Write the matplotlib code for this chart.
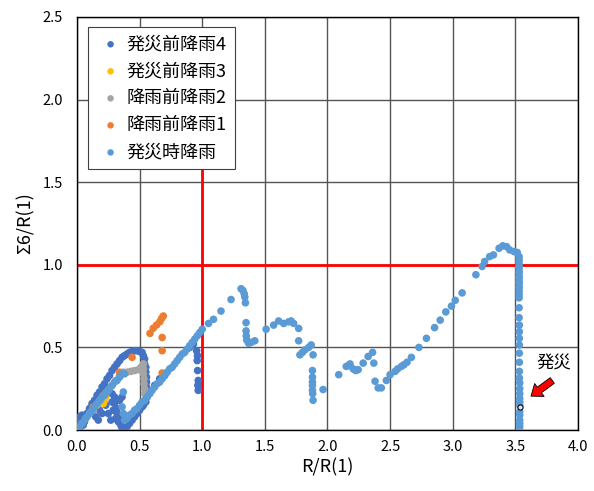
import numpy as np
import matplotlib
matplotlib.use('Agg')
import matplotlib.pyplot as plt
from matplotlib.patches import FancyArrowPatch

plt.rcParams['font.family'] = ['Noto Sans CJK JP', 'DejaVu Sans']

# series labels and colours (Excel palette)
labels = ['発災前降雨4', '発災前降雨3', '降雨前降雨2', '降雨前降雨1', '発災時降雨']
colors = ['#4472C4', '#FFC000', '#A5A5A5', '#ED7D31', '#5B9BD5']

# points as (R/R(1), Σ6/R(1))
# 発災前降雨4
pts4 = [(0.0, 0.0), (0.01, 0.03), (0.0, 0.06), (0.02, 0.08), (0.03, 0.05), (0.05, 0.03),
        (0.04, 0.09), (0.06, 0.05), (0.02, 0.01), (0.08, 0.10), (0.10, 0.13), (0.12, 0.16),
        (0.14, 0.18), (0.16, 0.21), (0.18, 0.23),
        (0.20, 0.26), (0.22, 0.28), (0.24, 0.31), (0.26, 0.33), (0.28, 0.36), (0.30, 0.38),
        (0.32, 0.40), (0.34, 0.42), (0.36, 0.44), (0.38, 0.45), (0.40, 0.46), (0.42, 0.47),
        (0.44, 0.475), (0.46, 0.48), (0.48, 0.48),
        (0.50, 0.475), (0.52, 0.47), (0.53, 0.45), (0.54, 0.43), (0.54, 0.40), (0.55, 0.38),
        (0.55, 0.35), (0.555, 0.32), (0.555, 0.29), (0.555, 0.26), (0.555, 0.23), (0.56, 0.20),
        (0.55, 0.17), (0.53, 0.15),
        (0.28, 0.22), (0.30, 0.20), (0.30, 0.16), (0.32, 0.13), (0.32, 0.10), (0.34, 0.08),
        (0.33, 0.05), (0.35, 0.03), (0.36, 0.01), (0.38, 0.0), (0.40, 0.02), (0.29, 0.12),
        (0.31, 0.07), (0.34, 0.18), (0.36, 0.20),
        (0.28, 0.17), (0.27, 0.06), (0.25, 0.10), (0.23, 0.15), (0.15, 0.08), (0.18, 0.12),
        (0.20, 0.10), (0.17, 0.06), (0.42, 0.04), (0.44, 0.06), (0.46, 0.08), (0.48, 0.10),
        (0.50, 0.12), (0.52, 0.14),
        (0.58, 0.22), (0.62, 0.27), (0.66, 0.31), (0.70, 0.33), (0.90, 0.50), (0.93, 0.52),
        (0.955, 0.48), (0.96, 0.42), (0.963, 0.36), (0.968, 0.30), (0.968, 0.24),
        (0.965, 0.27), (0.962, 0.45)]

# 発災前降雨3
pts3 = [(0.20, 0.17), (0.22, 0.18), (0.21, 0.16), (0.23, 0.20)]

# 降雨前降雨2
pts2 = [(0.04, 0.04), (0.07, 0.07), (0.10, 0.10), (0.13, 0.12), (0.16, 0.15), (0.19, 0.18),
        (0.22, 0.21), (0.25, 0.24), (0.28, 0.27), (0.31, 0.30), (0.34, 0.33), (0.37, 0.35),
        (0.40, 0.35), (0.43, 0.355), (0.46, 0.36), (0.49, 0.365), (0.51, 0.38), (0.53, 0.40),
        (0.53, 0.37), (0.53, 0.34), (0.535, 0.31), (0.535, 0.28), (0.54, 0.25), (0.54, 0.22)]

# 降雨前降雨1
pts1 = [(0.13, 0.14), (0.21, 0.21), (0.34, 0.35), (0.44, 0.44), (0.583, 0.585),
        (0.609, 0.616), (0.636, 0.636), (0.662, 0.656), (0.676, 0.676), (0.689, 0.69),
        (0.68, 0.56), (0.68, 0.48), (0.68, 0.345)]

# 発災時降雨
pts0 = [(0.0, 0.0), (0.02, 0.02), (0.04, 0.04), (0.06, 0.06), (0.08, 0.08), (0.10, 0.10),
        (0.12, 0.12), (0.14, 0.14), (0.16, 0.16), (0.18, 0.18), (0.20, 0.20), (0.22, 0.21),
        (0.24, 0.23), (0.26, 0.25), (0.28, 0.27), (0.30, 0.29), (0.32, 0.30), (0.34, 0.32),
        (0.36, 0.34), (0.38, 0.34), (0.37, 0.23), (0.36, 0.14), (0.37, 0.10), (0.38, 0.06),
        (0.40, 0.07), (0.42, 0.09), (0.44, 0.10), (0.46, 0.12), (0.48, 0.13), (0.50, 0.15),
        (0.52, 0.17), (0.54, 0.18), (0.56, 0.20), (0.58, 0.22), (0.60, 0.24), (0.62, 0.26),
        (0.64, 0.28), (0.66, 0.29), (0.68, 0.31), (0.70, 0.33), (0.72, 0.35), (0.74, 0.37),
        (0.76, 0.38), (0.78, 0.40), (0.80, 0.42), (0.82, 0.44), (0.84, 0.46), (0.86, 0.47),
        (0.88, 0.49), (0.90, 0.51), (0.92, 0.53), (0.94, 0.55), (0.96, 0.57), (0.98, 0.59),
        (1.00, 0.61), (1.05, 0.645), (1.09, 0.67), (1.15, 0.72), (1.23, 0.79), (1.31, 0.855),
        (1.325, 0.845), (1.335, 0.825), (1.34, 0.805), (1.345, 0.77), (1.35, 0.65),
        (1.35, 0.60), (1.352, 0.57), (1.355, 0.545), (1.37, 0.525), (1.39, 0.53),
        (1.42, 0.54), (1.51, 0.61), (1.57, 0.635), (1.61, 0.66), (1.65, 0.645), (1.69, 0.655),
        (1.71, 0.66), (1.73, 0.645), (1.77, 0.615), (1.77, 0.54), (1.78, 0.455), (1.80, 0.47),
        (1.82, 0.485), (1.85, 0.50), (1.87, 0.515), (1.885, 0.455), (1.88, 0.36), (1.88, 0.32),
        (1.88, 0.29), (1.88, 0.27), (1.88, 0.24), (1.882, 0.22), (1.885, 0.18), (1.965, 0.245),
        (2.09, 0.335), (2.15, 0.385), (2.17, 0.39), (2.18, 0.40), (2.205, 0.37), (2.225, 0.36),
        (2.245, 0.365), (2.285, 0.405), (2.325, 0.445), (2.36, 0.47), (2.37, 0.405),
        (2.38, 0.295), (2.405, 0.255), (2.43, 0.255), (2.47, 0.30), (2.50, 0.335),
        (2.54, 0.355), (2.56, 0.37), (2.59, 0.385), (2.61, 0.395), (2.635, 0.41), (2.67, 0.44),
        (2.73, 0.50), (2.79, 0.555), (2.855, 0.62), (2.90, 0.665), (2.945, 0.715), (2.99, 0.75),
        (3.02, 0.785), (3.075, 0.83), (3.185, 0.94), (3.235, 0.99), (3.255, 1.02),
        (3.295, 1.05), (3.325, 1.06), (3.37, 1.10), (3.40, 1.115), (3.43, 1.11),
        (3.455, 1.09), (3.49, 1.08), (3.515, 1.075), (3.53, 1.05), (3.53, 1.03), (3.53, 1.01),
        (3.53, 0.99), (3.53, 0.98), (3.53, 0.96), (3.53, 0.95), (3.53, 0.93), (3.53, 0.92),
        (3.53, 0.90), (3.53, 0.89), (3.53, 0.87), (3.53, 0.86), (3.53, 0.84), (3.53, 0.82),
        (3.53, 0.80), (3.53, 0.74), (3.53, 0.68), (3.532, 0.635), (3.532, 0.595),
        (3.532, 0.555), (3.532, 0.515), (3.532, 0.465), (3.532, 0.41), (3.532, 0.355),
        (3.532, 0.315), (3.535, 0.285), (3.535, 0.25), (3.535, 0.22), (3.535, 0.19),
        (3.535, 0.17), (3.535, 0.15), (3.535, 0.11), (3.535, 0.09), (3.535, 0.06),
        (3.535, 0.04), (3.535, 0.02), (3.535, 0.0)]

series = [pts4, pts3, pts2, pts1, pts0]

# 発災 point
event_x, event_y = 3.535, 0.137

fig, ax = plt.subplots(figsize=(5.94, 4.91), dpi=100)
fig.subplots_adjust(left=0.1296, right=0.973, bottom=0.1242, top=0.9654)

ticks_x = np.arange(0, 4.01, 0.5)
ticks_y = np.arange(0, 2.51, 0.5)
ax.set_xlim(0, 4.0)
ax.set_ylim(0, 2.5)
ax.set_xticks(ticks_x)
ax.set_yticks(ticks_y)
ax.set_xticklabels(['%.1f' % v for v in ticks_x])
ax.set_yticklabels(['%.1f' % v for v in ticks_y])
ax.tick_params(length=0, labelsize=10.5)
ax.tick_params(axis='x', pad=7)
ax.tick_params(axis='y', pad=10)
ax.grid(True, color='#555555', lw=1.0, zorder=0)
ax.set_axisbelow(True)
for s in ax.spines.values():
    s.set_color('black')
    s.set_linewidth(1.0)

ax.plot([1.0, 1.0], [0, 2.4], color='red', lw=2, zorder=1)
ax.axhline(1.0, color='red', lw=2, zorder=1)

for pts, c, lab in zip(series, colors, labels):
    x, y = zip(*pts)
    ax.scatter(x, y, s=30, color=c, label=lab, zorder=3, edgecolors='none')

ax.scatter([event_x], [event_y], s=14, facecolors='#dfe9f5', edgecolors='black',
           linewidths=0.8, zorder=4)

# block arrow pointing at the 発災 point
arr = FancyArrowPatch((3.795, 0.30), (3.625, 0.205),
                      arrowstyle='simple,head_width=1.15,head_length=0.75,tail_width=0.5',
                      mutation_scale=10, shrinkA=0, shrinkB=0,
                      fc='red', ec='black', lw=0.6, zorder=5)
ax.add_patch(arr)
ax.text(3.81, 0.405, '発災', ha='center', va='center', fontsize=12.5)

ax.set_xlabel('R/R(1)', fontsize=13, labelpad=3)
ax.set_ylabel('Σ6/R(1)', fontsize=13, labelpad=6)

leg = ax.legend(loc='upper left', bbox_to_anchor=(0.022, 0.976), borderaxespad=0,
                fontsize=13, fancybox=False, framealpha=1, edgecolor='#404040',
                handletextpad=0.1, labelspacing=0.5, markerscale=0.85,
                borderpad=0.45, handlelength=1.6)
leg.get_frame().set_linewidth(0.8)
leg.set_zorder(10)

fig.savefig('out.png', dpi=100)
